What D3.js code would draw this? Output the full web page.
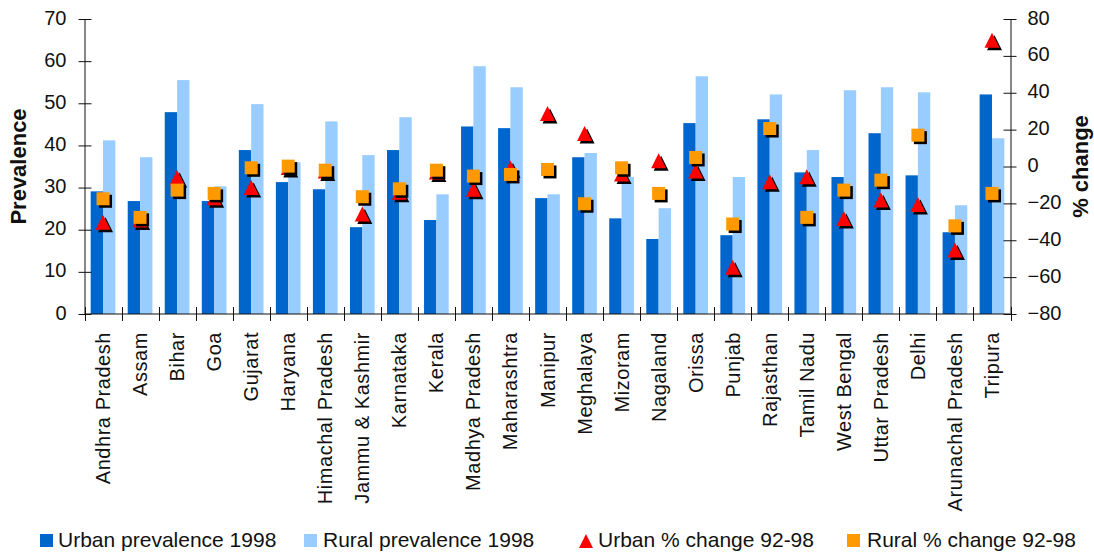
<!DOCTYPE html>
<html>
<head>
<meta charset="utf-8">
<script src="https://cdn.jsdelivr.net/npm/d3@7"></script>
<style>
  html, body { margin: 0; padding: 0; background: #fff; }
  svg { display: block; font-family: "Liberation Sans", Arial, sans-serif; }
</style>
</head>
<body>
<svg id="chart" width="1094" height="554"></svg>
<script>
// States in chart order
const states = ["Andhra Pradesh", "Assam", "Bihar", "Goa", "Gujarat", "Haryana",
  "Himachal Pradesh", "Jammu & Kashmir", "Karnataka", "Kerala", "Madhya Pradesh",
  "Maharashtra", "Manipur", "Meghalaya", "Mizoram", "Nagaland", "Orissa", "Punjab",
  "Rajasthan", "Tamil Nadu", "West Bengal", "Uttar Pradesh", "Delhi",
  "Arunachal Pradesh", "Tripura"];

// Prevalence in 1998 (%)
const urbanPrev = [29.1, 26.8, 47.9, 26.8, 38.9, 31.3, 29.6, 20.6, 38.9, 22.3, 44.5, 44.1,
  27.5, 37.2, 22.7, 17.8, 45.3, 18.7, 46.2, 33.6, 32.5, 42.9, 32.9, 19.4, 52.1];
const ruralPrev = [41.2, 37.2, 55.5, 30.3, 49.8, 36.0, 45.7, 37.7, 46.7, 28.4, 58.8, 53.8,
  28.4, 38.2, 32.5, 25.1, 56.4, 32.5, 52.1, 38.9, 53.1, 53.8, 52.6, 25.8, 41.7];

// Percent change 1992-98
const urbanChange = [-30.3, -29.0, -5.9, -17.0, -11.4, -0.5, -2.5, -25.8, -14.0, -3.0, -12.4, -0.8,
  28.7, 17.9, -4.1, 3.1, -2.4, -54.7, -8.3, -5.6, -28.2, -18.2, -20.6, -45.3, 68.5];
const ruralChange = [-17.5, -27.6, -12.8, -14.6, -0.7, 0.2, -2.0, -16.4, -12.1, -2.0, -5.2, -4.3,
  -1.6, -20.2, -0.7, -14.6, 4.9, -31.2, 20.6, -27.6, -12.8, -7.4, 17.0, -32.2, -14.6];

// Axis ticks
const prevTicks = [0, 10, 20, 30, 40, 50, 60, 70];
const changeTicks = [-80, -60, -40, -20, 0, 20, 40, 60, 80];

const legendLabels = ["Urban prevalence 1998", "Rural prevalence 1998",
  "Urban % change 92-98", "Rural % change 92-98"];

const C = { urban: "#0066CC", rural: "#99CCFF", tri: "#FF0000", sq: "#FF9900", ink: "#111" };

const svg = d3.select("#chart");
const plotL = 84.5, plotR = 1010.5, plotT = 19, plotB = 314;

const x = d3.scaleBand().domain(states).range([plotL, plotR]).padding(0);
const bw = x.bandwidth();
const xSub = d3.scaleBand().domain(["urban", "rural"]).range([0, bw])
  .paddingInner(0).paddingOuter(0.5);
const yPrev = d3.scaleLinear().domain([0, 70]).range([plotB, plotT]);
const yChg = d3.scaleLinear().domain([-80, 80]).range([plotB, plotT]);

const rows = states.map((s, i) => ({
  s, up: urbanPrev[i], rp: ruralPrev[i], uc: urbanChange[i], rc: ruralChange[i]
}));

// Bars
const g = svg.append("g");
g.selectAll("rect.urban").data(rows).join("rect")
  .attr("x", d => x(d.s) + xSub("urban"))
  .attr("y", d => yPrev(d.up))
  .attr("width", xSub.bandwidth())
  .attr("height", d => yPrev(0) - yPrev(d.up))
  .attr("fill", C.urban);
g.selectAll("rect.rural").data(rows).join("rect")
  .attr("x", d => x(d.s) + xSub("rural"))
  .attr("y", d => yPrev(d.rp))
  .attr("width", xSub.bandwidth())
  .attr("height", d => yPrev(0) - yPrev(d.rp))
  .attr("fill", C.rural);

// Left axis
const axL = svg.append("g").attr("transform", `translate(${plotL},0)`)
  .call(d3.axisLeft(yPrev).tickValues(prevTicks).tickSizeOuter(0).tickSizeInner(6));
axL.select(".domain").attr("stroke", C.ink);
axL.selectAll(".tick line").attr("x1", -6).attr("x2", 7).attr("stroke", C.ink);
axL.selectAll(".tick text").attr("x", -18).attr("dy", "0.25em")
  .attr("font-size", 20).attr("font-family", "Liberation Sans, Arial, sans-serif").attr("fill", C.ink);

// Right axis
const axR = svg.append("g").attr("transform", `translate(${plotR},0)`)
  .call(d3.axisRight(yChg).tickValues(changeTicks).tickSizeOuter(0).tickSizeInner(6));
axR.select(".domain").attr("stroke", C.ink);
axR.selectAll(".tick line").attr("x1", -7).attr("x2", 6).attr("stroke", C.ink);
axR.selectAll(".tick text").attr("x", 17).attr("dy", "0.25em")
  .attr("font-size", 20).attr("font-family", "Liberation Sans, Arial, sans-serif").attr("fill", C.ink);

// Category axis
const axB = svg.append("g");
axB.append("line").attr("x1", plotL).attr("x2", plotR).attr("y1", plotB).attr("y2", plotB)
  .attr("stroke", C.ink);
const bounds = states.map(s => x(s)).concat([x(states[states.length - 1]) + bw]);
axB.selectAll("line.tk").data(bounds).join("line")
  .attr("x1", d => Math.round(d) + 0.5).attr("x2", d => Math.round(d) + 0.5)
  .attr("y1", plotB - 7).attr("y2", plotB + 7)
  .attr("stroke", C.ink);
axB.selectAll("text").data(states).join("text")
  .attr("transform", d => `translate(${x(d) + bw / 2},332) rotate(-90)`)
  .attr("dy", "0.35em")
  .attr("text-anchor", "end")
  .attr("font-size", 20)
  .attr("letter-spacing", 0.55)
  .attr("fill", C.ink)
  .text(d => d);

// Markers with drop shadow
function triPath(cx, cy, w, h) {
  return `M${cx},${cy - h / 2}L${cx + w / 2},${cy + h / 2}L${cx - w / 2},${cy + h / 2}Z`;
}
const mk = svg.append("g");
const cx = d => x(d.s) + bw / 2;
const sh = 2.5;
// urban triangles
mk.selectAll("path.ts").data(rows).join("path")
  .attr("d", d => triPath(cx(d) + sh, yChg(d.uc) + sh, 15, 15)).attr("fill", "#000");
mk.selectAll("path.t").data(rows).join("path")
  .attr("d", d => triPath(cx(d), yChg(d.uc), 15, 15)).attr("fill", C.tri);
// rural squares
const sq = 13;
mk.selectAll("rect.ss").data(rows).join("rect")
  .attr("x", d => cx(d) - sq / 2 + sh).attr("y", d => yChg(d.rc) - sq / 2 + sh)
  .attr("width", sq).attr("height", sq).attr("fill", "#000");
mk.selectAll("rect.s").data(rows).join("rect")
  .attr("x", d => cx(d) - sq / 2).attr("y", d => yChg(d.rc) - sq / 2)
  .attr("width", sq).attr("height", sq).attr("fill", C.sq);

// Axis titles
svg.append("text")
  .attr("transform", `translate(26,${(plotT + plotB) / 2}) rotate(-90)`)
  .attr("text-anchor", "middle").attr("font-size", 22).attr("font-weight", "bold")
  .attr("fill", C.ink).text("Prevalence");
svg.append("text")
  .attr("transform", `translate(1088,${(plotT + plotB) / 2}) rotate(-90)`)
  .attr("text-anchor", "middle").attr("font-size", 22).attr("font-weight", "bold")
  .attr("fill", C.ink).text("% change");

// Legend
const lg = svg.append("g");
const items = [
  { key: "rect", color: C.urban, x: 40, tx: 58 },
  { key: "rect", color: C.rural, x: 304, tx: 323 },
  { key: "tri", color: C.tri, x: 579, tx: 598 },
  { key: "rect", color: C.sq, x: 847, tx: 867 }
];
items.forEach((it, i) => {
  if (it.key === "rect") {
    lg.append("rect").attr("x", it.x).attr("y", 534).attr("width", 13).attr("height", 13)
      .attr("fill", it.color);
  } else {
    lg.append("path").attr("d", triPath(it.x + 7, 541, 14, 14)).attr("fill", it.color);
  }
  lg.append("text").attr("x", it.tx).attr("y", 547).attr("font-size", 21)
    .attr("fill", C.ink).text(legendLabels[i]);
});
</script>
</body>
</html>
